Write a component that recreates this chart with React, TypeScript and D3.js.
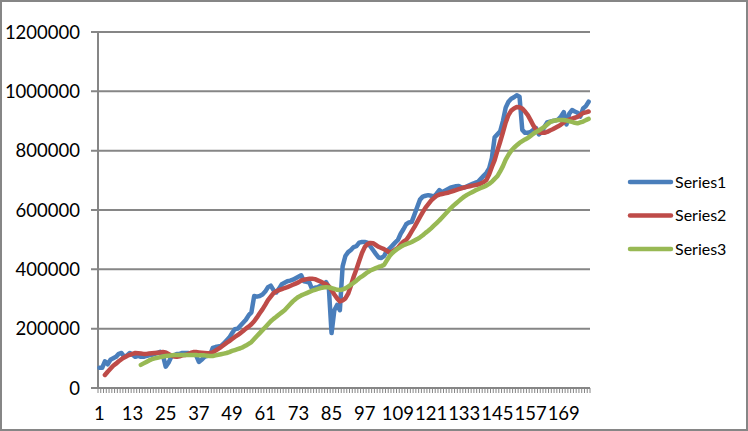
import React from "react";
import * as d3 from "d3";

// Values in thousands (×1000)
const UNIT = 1000;
const categories: number[] = d3.range(1, 179);
const xTickLabels = ["1", "13", "25", "37", "49", "61", "73", "85", "97", "109", "121", "133", "145", "157", "169"];
const yTicks = [0, 200000, 400000, 600000, 800000, 1000000, 1200000];
const seriesNames = ["Series1", "Series2", "Series3"];
const seriesColors = ["#4A7EBB", "#BE4B48", "#98B954"];

const series1: (number | null)[] = [
  68, 68, 90, 80, 95, 100, 105, 115, 118, 105,
  110, 118, 112, 105, 108, 105, 105, 108, 110, 112,
  115, 118, 122, 110, 72, 85, 105, 110, 115, 115,
  118, 118, 118, 115, 115, 110, 88, 95, 105, 108,
  110, 135, 138, 140, 142, 150, 160, 170, 185, 198,
  200, 210, 220, 230, 245, 255, 310, 308, 310, 315,
  325, 340, 345, 330, 322, 335, 350, 355, 360, 362,
  365, 370, 375, 380, 360, 358, 355, 332, 338, 340,
  345, 348, 357, 340, 185, 262, 280, 262, 410, 445,
  458, 465, 475, 478, 490, 492, 492, 490, 478, 465,
  452, 440, 438, 445, 462, 470, 480, 490, 499, 520,
  535, 552, 558, 560, 585, 610, 635, 645, 648, 650,
  648, 645, 655, 667, 660, 665, 670, 675, 678, 680,
  681, 676, 676, 680, 684, 688, 692, 695, 705, 715,
  725, 740, 775, 845, 855, 865, 900, 945, 965, 975,
  980, 987, 982, 870, 860, 860, 863, 870, 876, 855,
  862, 880, 895, 898, 900, 902, 905, 915, 930, 888,
  925, 937, 932, 928, 915, 942, 950, 965,
];

const series2: (number | null)[] = [
  null, null,
  44, 55, 65, 75, 82, 90, 97, 103, 108, 112,
  115, 118, 117, 116, 115, 115, 116, 117, 118, 119,
  120, 121, 120, 115, 110, 106, 105, 107, 110, 111,
  114, 118, 121, 121, 120, 119, 118, 117, 118, 120,
  126, 132, 138, 145, 152, 158, 165, 172, 178, 185,
  192, 200, 207, 215, 225, 238, 252, 265, 280, 296,
  308, 320, 326, 330, 333, 337, 340, 344, 348, 352,
  356, 362, 365, 367, 368, 368, 367, 363, 359, 354,
  350, 343, 330, 315, 302, 292, 295, 302, 318, 345,
  375, 400, 428, 455, 475, 485, 489, 488, 482, 476,
  472, 468, 463, 456, 460, 466, 472, 484, 493, 499,
  512, 528, 543, 560, 577, 593, 608, 620, 632, 640,
  648, 652, 654, 656, 658, 661, 664, 667, 670, 673,
  676, 678, 680, 682, 684, 686, 689, 694, 701, 720,
  745, 768, 800, 830, 862, 895, 920, 935, 942, 947,
  946, 942, 932, 920, 903, 885, 870, 862, 860, 860,
  863, 868, 872, 877, 882, 888, 895, 902, 905, 908,
  911, 914, 920, 927, 929, 932,
];

const series3: (number | null)[] = [
  null, null, null, null, null, null, null, null, null, null,
  null, null, null, null, null,
  78, 83, 88, 93, 97, 100, 102, 104, 106, 108,
  109, 110, 111, 111, 111, 111, 111, 111, 111, 111,
  111, 110, 110, 110, 109, 108, 108, 110, 112, 114,
  116, 118, 121, 125, 128, 131, 134, 138, 143, 149,
  155, 165, 175, 185, 195, 205, 215, 225, 233, 240,
  248, 255, 262, 272, 282, 292, 300, 307, 312, 316,
  320, 324, 328, 331, 334, 337, 339, 340, 339, 337,
  334, 331, 330, 332, 336, 342, 348, 355, 362, 370,
  376, 383, 390, 396, 400, 404, 408, 411, 415, 430,
  445, 455, 463, 470, 476, 481, 485, 488, 492, 497,
  502, 508, 515, 523, 530, 538, 547, 556, 565, 575,
  585, 595, 605, 614, 622, 630, 638, 645, 651, 656,
  661, 666, 670, 674, 678, 682, 688, 695, 705, 714,
  730, 748, 770, 786, 800, 810, 818, 826, 832, 838,
  843, 850, 857, 863, 868, 874, 880, 888, 896, 900,
  902, 903, 903, 903, 902, 899, 897, 894, 892, 895,
  898, 903, 907,
];

const allSeries = [series1, series2, series3];

const W = 748;
const H = 431;
const plot = { left: 98, right: 590, top: 32, bottom: 388 };
const FONT = "Lato, 'Liberation Sans', Arial, sans-serif";
const GRID = "#868686";

export default function App() {
  const x = d3
    .scaleBand<number>()
    .domain(categories)
    .range([plot.left, plot.right])
    .paddingInner(0)
    .paddingOuter(0);
  const bw = x.bandwidth();
  const cx = (c: number) => (x(c) as number) + bw / 2;
  const y = d3.scaleLinear().domain([0, 1200000]).range([plot.bottom, plot.top]);

  const line = d3
    .line<number | null>()
    .defined((d) => d !== null)
    .x((_, i) => cx(categories[i]))
    .y((d) => y((d as number) * UNIT));

  const minorTicks = [...categories.map((c) => x(c) as number), plot.right];

  return (
    <svg
      width={W}
      height={H}
      style={{ position: "absolute", left: 0, top: 0, background: "#fff" }}
      fontFamily={FONT}
    >
      <rect x={0} y={0} width={W} height={H} fill="#fff" />
      {/* gridlines */}
      {yTicks.map((t) => (
        <line key={"g" + t} x1={plot.left - 7} x2={plot.right} y1={y(t)} y2={y(t)} stroke={GRID} strokeWidth={2} />
      ))}
      {/* y axis */}
      <line x1={plot.left} x2={plot.left} y1={plot.top} y2={plot.bottom} stroke={GRID} strokeWidth={2} />
      {/* x minor ticks */}
      {minorTicks.map((tx, i) => (
        <line key={"t" + i} x1={tx} x2={tx} y1={plot.bottom} y2={plot.bottom + 5} stroke={GRID} strokeWidth={1} />
      ))}
      {/* y labels */}
      {yTicks.map((t) => (
        <text key={"yl" + t} x={80} y={y(t)} dy="0.36em" textAnchor="end" fontSize={18.5} fill="#000">
          {String(t)}
        </text>
      ))}
      {/* x labels */}
      {xTickLabels.map((l) => (
        <text key={"xl" + l} x={cx(+l)} y={420} textAnchor="middle" fontSize={18.5} fill="#000">
          {l}
        </text>
      ))}
      {/* series */}
      {allSeries.map((s, k) => (
        <path
          key={"s" + k}
          d={line(s) || ""}
          fill="none"
          stroke={seriesColors[k]}
          strokeWidth={4.5}
          strokeLinejoin="round"
          strokeLinecap="round"
        />
      ))}
      {/* legend */}
      {seriesNames.map((n, k) => {
        const ly = 182 + k * 33.5;
        return (
          <g key={"lg" + n}>
            <line x1={630} x2={671} y1={ly} y2={ly} stroke={seriesColors[k]} strokeWidth={4.5} strokeLinecap="round" />
            <text x={675} y={ly} dy="0.36em" fontSize={16} fill="#000">
              {n}
            </text>
          </g>
        );
      })}
      {/* outer border */}
      <rect x={1} y={1} width={W - 2} height={H - 2} fill="none" stroke={GRID} strokeWidth={2} />
    </svg>
  );
}
